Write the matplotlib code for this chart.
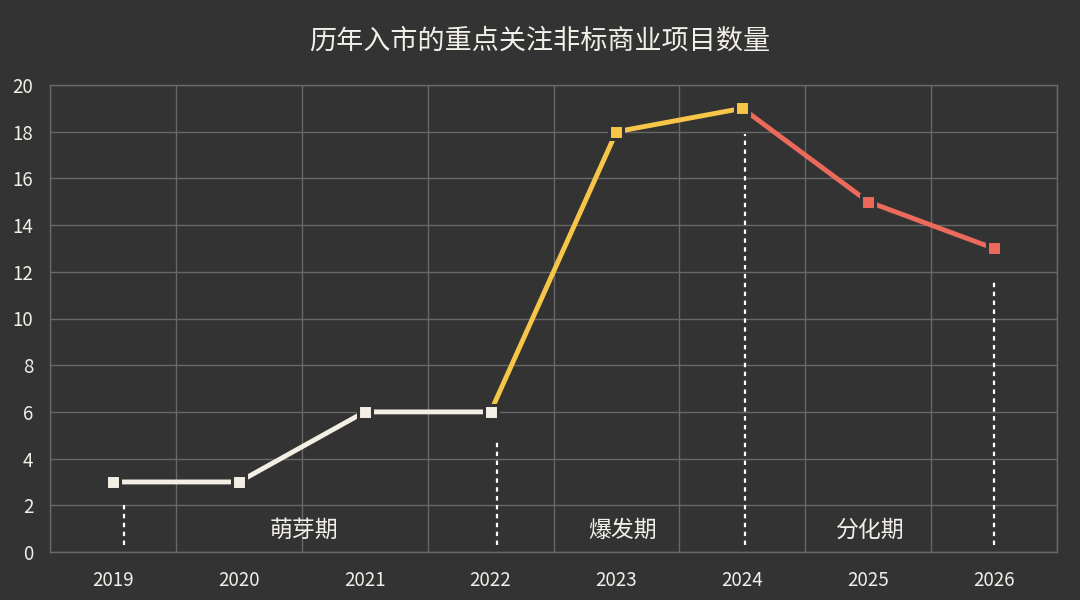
import matplotlib
matplotlib.use('Agg')
import matplotlib.pyplot as plt

plt.rcParams['font.family'] = ['Noto Sans CJK SC', 'DejaVu Sans']

# data
years = ['2019', '2020', '2021', '2022', '2023', '2024', '2025', '2026']
counts = [3, 3, 6, 6, 18, 19, 15, 13]
phases = ['萌芽期', '爆发期', '分化期']
phase_label_x = [1.52, 4.05, 6.02]
# dotted separators: x position (category units) and top value
sep_x = [0.09, 3.05, 5.02, 7.0]
sep_top = [2.1, 4.7, 17.9, 11.7]

bg = '#333333'
fg = '#f2efe8'
grid_c = '#686868'
c_white = '#f3efe4'
c_yellow = '#f7c548'
c_red = '#ec6a5c'

fig = plt.figure(figsize=(10.8, 6), dpi=100, facecolor=bg)
ax = fig.add_axes([50/1080, 48/600, 1007/1080, 467/600])
ax.set_facecolor(bg)

x = list(range(len(years)))

# grid
ax.set_xlim(-0.5, len(years) - 0.5)
ax.set_ylim(0, 20)
ax.set_yticks(range(0, 21, 2))
ax.set_xticks(x)
ax.set_xticklabels(years)
ax.set_xticks([i - 0.5 for i in range(len(years) + 1)], minor=True)
ax.grid(axis='y', which='major', color=grid_c, lw=1)
ax.grid(axis='x', which='minor', color=grid_c, lw=1)
ax.tick_params(which='both', length=0)
ax.tick_params(axis='x', colors=fg, labelsize=13.5, pad=13)
ax.tick_params(axis='y', colors=fg, labelsize=13.5, pad=12)
for lab in ax.get_xticklabels() + ax.get_yticklabels():
    lab.set_fontweight('medium')
for s in ax.spines.values():
    s.set_color(grid_c)
    s.set_linewidth(1)
ax.set_axisbelow(True)

# dotted separators
for sx, st in zip(sep_x, sep_top):
    ax.plot([sx, sx], [0.3, st], color='white', lw=1.6, ls=(0, (2, 2)), zorder=2)

# line segments by phase
mk = dict(marker='s', markersize=10.3, markeredgecolor=bg, markeredgewidth=2.2)
lw = 3.5
ax.plot(x[0:4], counts[0:4], color=c_white, lw=lw, markerfacecolor=c_white, zorder=5, **mk)
ax.plot(x[3:6], counts[3:6], color=c_yellow, lw=lw, zorder=4)
ax.plot(x[4:6], counts[4:6], ls='none', markerfacecolor=c_yellow, zorder=6, **mk)
ax.plot(x[5:8], counts[5:8], color=c_red, lw=lw, zorder=3)
ax.plot(x[6:8], counts[6:8], ls='none', markerfacecolor=c_red, zorder=6, **mk)
ax.plot(x[3:4], counts[3:4], ls='none', markerfacecolor=c_white, zorder=7, **mk)
ax.plot(x[5:6], counts[5:6], ls='none', markerfacecolor=c_yellow, zorder=7, **mk)

for px, name in zip(phase_label_x, phases):
    ax.text(px, 0.95, name, color=fg, fontsize=16.5, ha='center', va='center')

fig.text(0.5, 1 - 41/600, '历年入市的重点关注非标商业项目数量', color=fg,
         fontsize=19.5, fontweight='medium', ha='center', va='center')

fig.savefig('out.png', dpi=100, facecolor=bg)
